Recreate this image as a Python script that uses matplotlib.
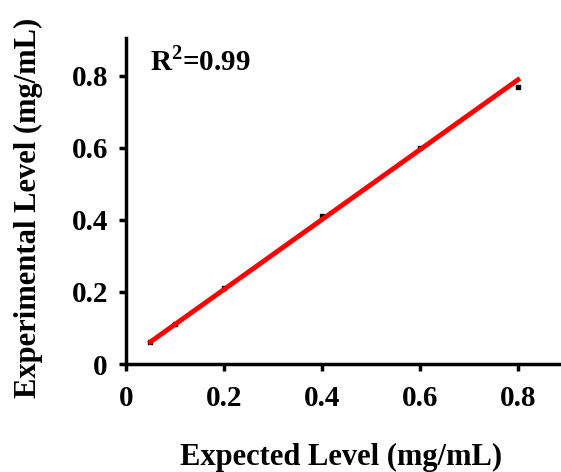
import matplotlib.pyplot as plt
import numpy as np

# data
expected = [0.05, 0.1, 0.2, 0.4, 0.6, 0.8]
measured = [0.06, 0.11, 0.21, 0.41, 0.60, 0.77]
fit_slope = 0.97
fit_intercept = 0.013
xticks = [0, 0.2, 0.4, 0.6, 0.8]
yticks = [0, 0.2, 0.4, 0.6, 0.8]

plt.rcParams['font.family'] = ['Liberation Serif', 'DejaVu Serif']
plt.rcParams['font.weight'] = 'bold'
plt.rcParams['mathtext.fontset'] = 'custom'
plt.rcParams['mathtext.rm'] = 'Liberation Serif:bold'
plt.rcParams['mathtext.bf'] = 'Liberation Serif:bold'

fig = plt.figure(figsize=(5.61, 4.72), dpi=100)
ax = fig.add_axes([0.2246, 0.2288, 0.7754, 0.6907])

ax.scatter(expected, measured, marker='s', s=10, color='black', zorder=2)
xs = np.array([expected[0], expected[-1]])
ax.plot(xs, fit_slope * xs + fit_intercept, color='red', lw=3.5, zorder=3)

ax.set_xlim(0, 0.888)
ax.set_ylim(0, 0.905)
ax.set_xticks(xticks)
ax.set_yticks(yticks)
ax.set_xticklabels(['0', '0.2', '0.4', '0.6', '0.8'])
ax.set_yticklabels(['0', '0.2', '0.4', '0.6', '0.8'])
ax.tick_params(direction='out', length=5, width=2.5, labelsize=21)
ax.tick_params(axis='y', pad=8)
ax.tick_params(axis='x', pad=10)

for s in ['top', 'right']:
    ax.spines[s].set_visible(False)
for s in ['left', 'bottom']:
    ax.spines[s].set_linewidth(2.5)

ax.text(0.05, 0.815, r'R$^{\mathbf{2}}$=0.99', fontsize=21, fontweight='bold')

fig.text(0.608, 0.03, 'Expected Level (mg/mL)', fontsize=22, fontweight='bold',
         ha='center', va='center')
fig.text(0.05, 0.56, 'Experimental Level (mg/mL)', fontsize=22, fontweight='bold',
         ha='center', va='center', rotation=90)

plt.savefig('out.png', dpi=100)
